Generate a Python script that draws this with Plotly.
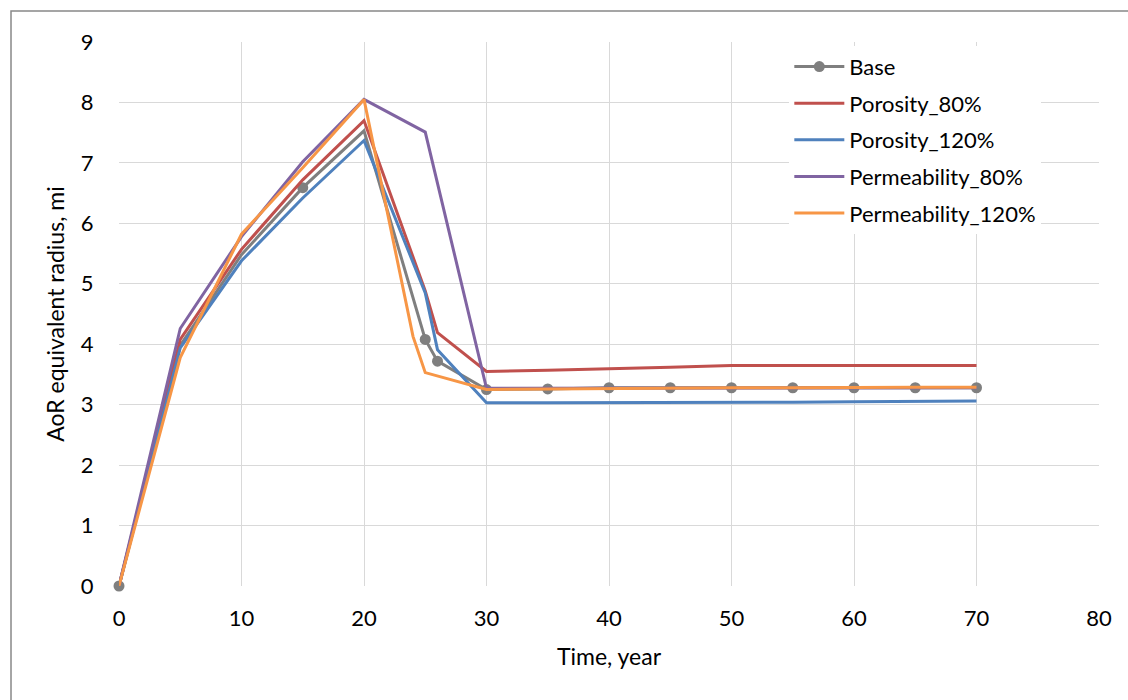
import plotly.graph_objects as go

# ---- data ----
base_x = [0, 5, 10, 15, 20, 25, 26, 30, 35, 40, 45, 50, 55, 60, 65, 70]
base_y = [0, 3.98, 5.48, 6.59, 7.53, 4.08, 3.72, 3.25, 3.26, 3.28, 3.28, 3.28, 3.28, 3.28, 3.28, 3.28]
base_marked_x = [0, 15, 25, 26, 30, 35, 40, 45, 50, 55, 60, 65, 70]

por80_x = [0, 5, 10, 15, 20, 25, 26, 30, 35, 40, 45, 50, 55, 60, 65, 70]
por80_y = [0, 4.08, 5.57, 6.72, 7.70, 4.88, 4.19, 3.55, 3.57, 3.59, 3.62, 3.65, 3.65, 3.65, 3.65, 3.65]

por120_x = [0, 5, 10, 15, 20, 25, 26, 30, 35, 40, 45, 50, 55, 60, 65, 70]
por120_y = [0, 3.94, 5.38, 6.42, 7.37, 4.85, 3.91, 3.03, 3.03, 3.03, 3.03, 3.04, 3.04, 3.05, 3.06, 3.06]

perm80_x = [0, 5, 10, 15, 20, 25, 30, 35, 40, 45, 50, 55, 60, 65, 70]
perm80_y = [0, 4.26, 5.78, 7.02, 8.05, 7.51, 3.27, 3.27, 3.28, 3.28, 3.28, 3.28, 3.28, 3.28, 3.28]

perm120_x = [0, 5, 10, 15, 20, 24, 25, 30, 35, 40, 45, 50, 55, 60, 65, 70]
perm120_y = [0, 3.78, 5.82, 6.92, 8.05, 4.13, 3.53, 3.25, 3.26, 3.27, 3.28, 3.28, 3.28, 3.29, 3.29, 3.29]

x_ticks = [0, 10, 20, 30, 40, 50, 60, 70, 80]
y_ticks = [0, 1, 2, 3, 4, 5, 6, 7, 8, 9]

FONT = "Lato, Carlito, Calibri, sans-serif"
GRAY = "#7f7f7f"

fig = go.Figure()

marker_colors = [GRAY if x in base_marked_x else "rgba(0,0,0,0)" for x in base_x]
fig.add_trace(go.Scatter(x=base_x, y=base_y, name="Base", mode="lines+markers",
                         line=dict(color=GRAY, width=3),
                         marker=dict(size=11, color=marker_colors),
                         cliponaxis=False, legendgroup="a"))
fig.add_trace(go.Scatter(x=por80_x, y=por80_y, name="Porosity_80%", mode="lines",
                         line=dict(color="#c0504d", width=3), legendgroup="b"))
fig.add_trace(go.Scatter(x=por120_x, y=por120_y, name="Porosity_120%", mode="lines",
                         line=dict(color="#4f81bd", width=3), legendgroup="c"))
fig.add_trace(go.Scatter(x=perm80_x, y=perm80_y, name="Permeability_80%", mode="lines",
                         line=dict(color="#8064a2", width=3), legendgroup="d"))
fig.add_trace(go.Scatter(x=perm120_x, y=perm120_y, name="Permeability_120%", mode="lines",
                         line=dict(color="#f79646", width=3), legendgroup="e"))

fig.update_layout(
    width=1128, height=700,
    margin=dict(l=119, r=29, t=42, b=114),
    paper_bgcolor="white", plot_bgcolor="white",
    font=dict(family=FONT, size=22, color="#000000"),
    showlegend=True,
    legend=dict(x=0.684, y=0.993, xanchor="left", yanchor="top",
                bgcolor="rgba(255,255,255,1)", font=dict(size=22, family=FONT),
                tracegroupgap=5, traceorder="grouped", itemwidth=50),
    shapes=[dict(type="rect", xref="paper", yref="paper",
                 x0=-0.1102, x1=1.3, y0=-0.5, y1=1.057,
                 line=dict(color="#888888", width=1.5), layer="below")],
)
fig.update_xaxes(range=[0, 80], tickvals=x_ticks, ticktext=[str(v) for v in x_ticks],
                 showgrid=True, gridcolor="#d9d9d9", gridwidth=1,
                 zeroline=False, showline=False,
                 ticks="outside", ticklen=13, tickcolor="rgba(0,0,0,0)",
                 tickfont=dict(size=22, family=FONT),
                 title=dict(text="Time, year", font=dict(size=23, family=FONT), standoff=18))
fig.update_yaxes(range=[0, 9], tickvals=y_ticks, ticktext=[str(v) for v in y_ticks],
                 showgrid=True, gridcolor="#d9d9d9", gridwidth=1,
                 zeroline=False, showline=False,
                 ticks="outside", ticklen=20, tickcolor="rgba(0,0,0,0)",
                 tickfont=dict(size=22, family=FONT),
                 title=dict(text="AoR equivalent radius, mi", font=dict(size=23, family=FONT), standoff=9))

fig.write_html("out.html")
